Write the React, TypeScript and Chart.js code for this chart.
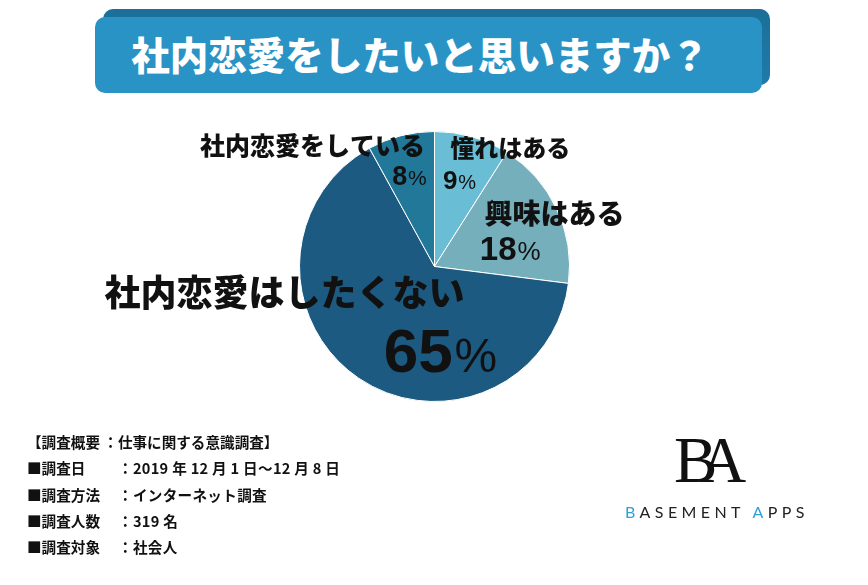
import React, { useEffect, useRef } from "react";
import { Chart, registerables } from "chart.js";

Chart.register(...registerables);

// ---- data ----
const categories = ["憧れはある", "興味はある", "社内恋愛はしたくない", "社内恋愛をしている"];
const values = [9, 18, 65, 8];
const sliceColors = ["#69BDD4", "#74AFBB", "#1C5A82", "#227899"];

const titleText = "社内恋愛をしたいと思いますか？";
const surveyHeader = "【調査概要 ：仕事に関する意識調査】";
const surveyLabels = ["■調査日", "■調査方法", "■調査人数", "■調査対象"];
const surveyValues = ["：2019 年 12 月 1 日〜12 月 8 日", "：インターネット調査", "：319 名", "：社会人"];
const brandWords = ["BASEMENT", "APPS"];

// label layout relative to pie centre, in units of radius: [dx, dy, fontSize]
const nameLayout = [
  [0.561, -0.875, 24],
  [0.889, -0.391, 28],
  [-1.111, 0.192, 36],
  [-0.904, -0.897, 25],
];
const pctLayout = [
  [0.185, -0.646, 26],
  [0.561, -0.133, 33],
  [0.044, 0.613, 62],
  [-0.185, -0.675, 27],
];

const CJK = '"Noto Sans CJK JP", "Noto Sans CJK SC", sans-serif';
const NUM = '"Liberation Sans", Arial, sans-serif';

const labelPlugin = {
  id: "sliceLabels",
  afterDatasetsDraw(chart: any) {
    const meta = chart.getDatasetMeta(0);
    const ctx = chart.ctx as CanvasRenderingContext2D;
    ctx.save();
    ctx.fillStyle = "#111111";
    meta.data.forEach((arc: any, i: number) => {
      const p = arc.getProps(["x", "y", "outerRadius"], true);
      const r = p.outerRadius;
      // name
      const [ndx, ndy, nsz] = nameLayout[i];
      ctx.font = `900 ${nsz}px ${CJK}`;
      ctx.textAlign = "center";
      ctx.textBaseline = "alphabetic";
      ctx.fillText(categories[i], p.x + ndx * r, p.y + ndy * r + 0.38 * nsz);
      // percent
      const [pdx, pdy, psz] = pctLayout[i];
      const num = String(values[i]);
      const numFont = `bold ${psz}px ${NUM}`;
      const pctSize = Math.round(psz * 0.78);
      const pctFont = `normal ${pctSize}px ${NUM}`;
      ctx.font = numFont;
      const wNum = ctx.measureText(num).width;
      ctx.font = pctFont;
      const wPct = ctx.measureText("%").width;
      const total = wNum + wPct + psz * 0.03;
      const cx = p.x + pdx * r;
      const base = p.y + pdy * r + 0.36 * psz;
      ctx.textAlign = "left";
      ctx.font = numFont;
      ctx.fillText(num, cx - total / 2, base);
      ctx.font = pctFont;
      ctx.fillText("%", cx - total / 2 + wNum + psz * 0.03, base);
    });
    ctx.restore();
  },
};

export default function App() {
  const canvasRef = useRef<HTMLCanvasElement | null>(null);

  useEffect(() => {
    const canvas = canvasRef.current;
    if (!canvas) return;
    const chart = new Chart(canvas, {
      type: "pie",
      data: {
        labels: categories,
        datasets: [
          {
            data: values,
            backgroundColor: sliceColors,
            borderColor: "#ffffff",
            borderWidth: 1,
          },
        ],
      },
      options: {
        responsive: false,
        animation: false,
        devicePixelRatio: 1,
        layout: { padding: { left: 299, right: 298, top: 131, bottom: 183 } },
        plugins: {
          legend: { display: false },
          tooltip: { enabled: false },
        },
      },
      plugins: [labelPlugin],
    });
    return () => chart.destroy();
  }, []);

  const lineTop = (i: number) => 432 + i * 26.3;
  const noteStyle = {
    position: "absolute" as const,
    height: 20,
    lineHeight: "20px",
    fontSize: 14.6,
    fontWeight: 700,
    color: "#111",
    whiteSpace: "nowrap" as const,
  };

  return (
    <div
      style={{
        position: "fixed",
        left: 0,
        top: 0,
        width: 868,
        height: 585,
        background: "#ffffff",
        overflow: "hidden",
        fontFamily: CJK,
      }}
    >
      {/* title box */}
      <div
        style={{
          position: "absolute",
          left: 103,
          top: 9,
          width: 667,
          height: 76,
          borderRadius: 10,
          background: "linear-gradient(180deg, #1B6F98 0%, #1F7BAA 100%)",
        }}
      />
      <div
        style={{
          position: "absolute",
          left: 95,
          top: 17,
          width: 667,
          height: 76,
          borderRadius: 10,
          background: "#2A93C5",
        }}
      />
      <div
        style={{
          position: "absolute",
          left: 95,
          top: 17,
          width: 650,
          height: 72,
          lineHeight: "72px",
          textAlign: "center",
          color: "#ffffff",
          fontWeight: 900,
          fontSize: 38.5,
          whiteSpace: "nowrap",
        }}
      >
        {titleText}
      </div>

      <canvas
        ref={canvasRef}
        width={868}
        height={585}
        style={{ position: "absolute", left: 0, top: 0, width: 868, height: 585 }}
      />

      {/* survey notes */}
      <div style={{ ...noteStyle, left: 27, top: lineTop(0) }}>{surveyHeader}</div>
      {surveyLabels.map((lab, i) => (
        <React.Fragment key={lab}>
          <div style={{ ...noteStyle, left: 27, top: lineTop(i + 1) }}>{lab}</div>
          <div style={{ ...noteStyle, left: 118, top: lineTop(i + 1), letterSpacing: 0.3 }}>
            {surveyValues[i]}
          </div>
        </React.Fragment>
      ))}

      {/* logo */}
      <div
        style={{
          position: "absolute",
          left: 674,
          top: 428,
          fontFamily: '"Liberation Serif", serif',
          fontSize: 65,
          lineHeight: "65px",
          letterSpacing: -18,
          color: "#111",
          whiteSpace: "nowrap",
        }}
      >
        BA
      </div>
      <div
        style={{
          position: "absolute",
          left: 625,
          top: 504,
          fontFamily: 'Lato, "Open Sans", sans-serif',
          fontSize: 16,
          lineHeight: "16px",
          letterSpacing: 4.4,
          color: "#222",
          whiteSpace: "nowrap",
        }}
      >
        {brandWords.map((w, i) => (
          <span key={w}>
            {i > 0 ? " " : ""}
            <span style={{ color: "#2CA0DA" }}>{w[0]}</span>
            {w.slice(1)}
          </span>
        ))}
      </div>
    </div>
  );
}
